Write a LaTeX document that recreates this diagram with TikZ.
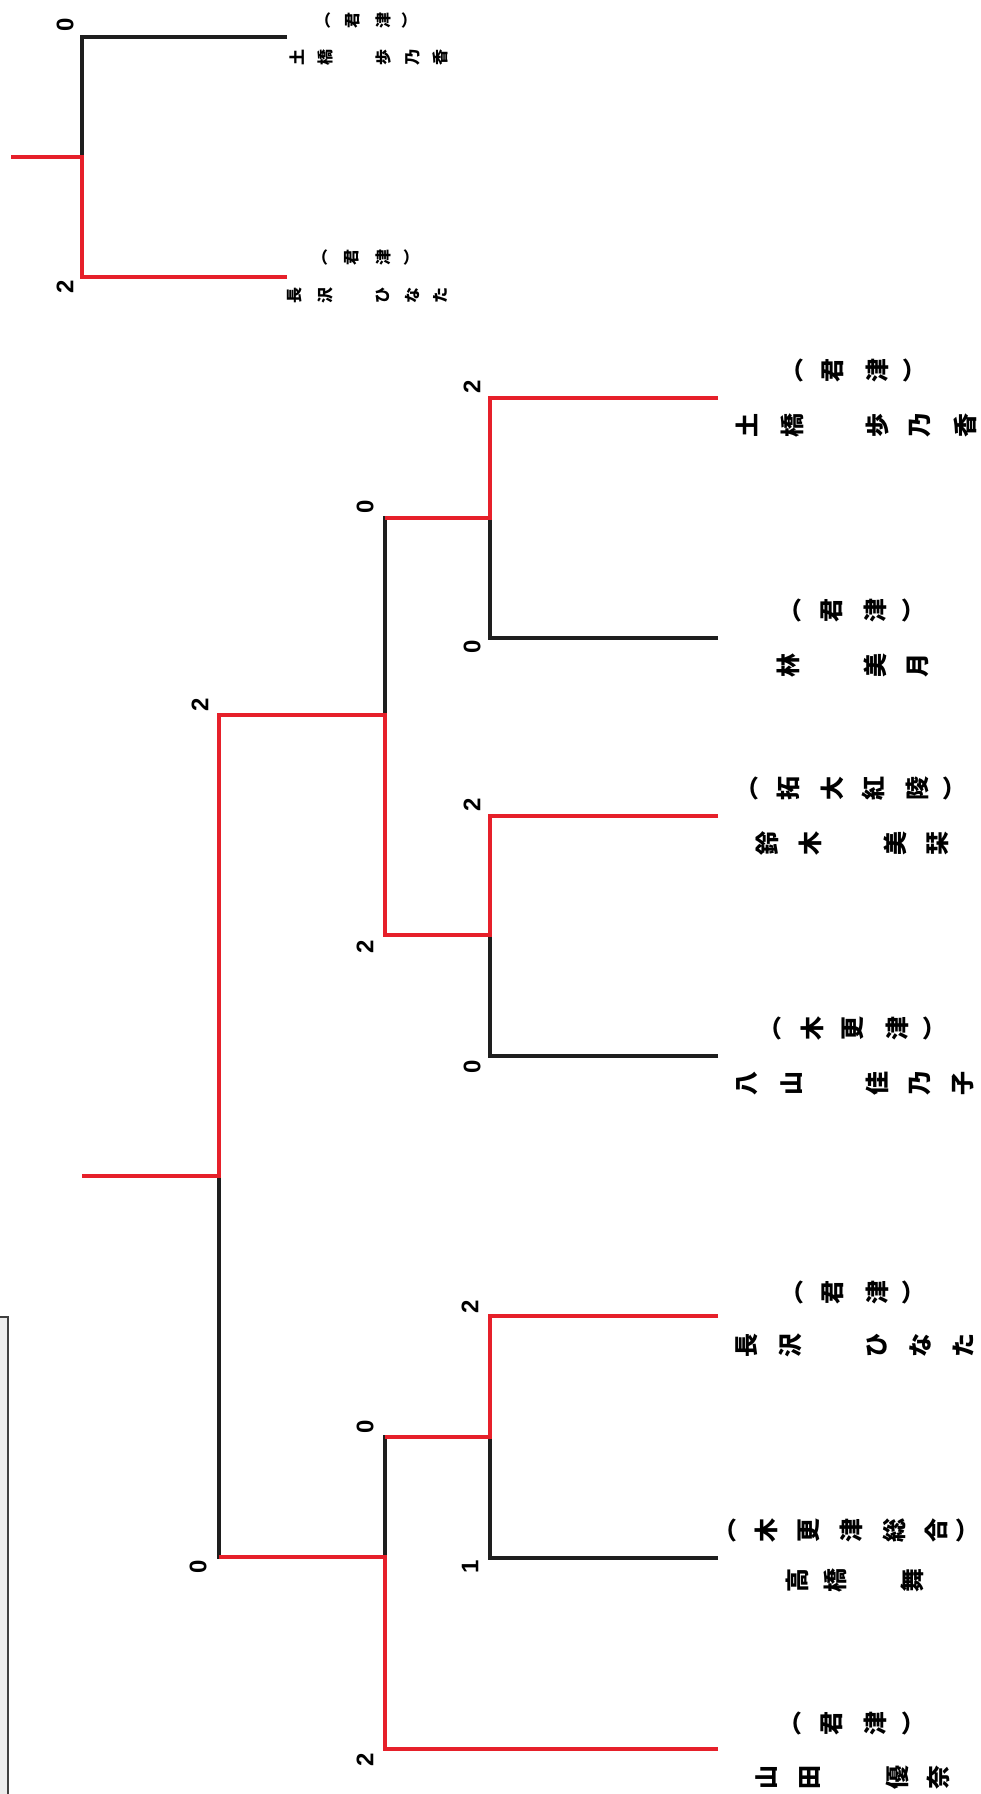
\documentclass[tikz,border=0pt]{standalone}
\usepackage{fontspec}
\setmainfont{Noto Sans CJK JP}
\newfontfamily\digitfont{Liberation Sans}
\usetikzlibrary{calc}

\definecolor{winred}{RGB}{230,32,42}
\definecolor{loseblack}{RGB}{30,30,30}

\tikzset{
  won/.style={draw=winred,line width=4.5pt},
  lost/.style={draw=loseblack,line width=3.5pt},
  score/.style={rotate=90,inner sep=0pt,font=\digitfont\bfseries\fontsize{24}{24}\selectfont},
  bigkana/.style={rotate=90,inner xsep=0pt,inner ysep=-4pt,font=\bfseries\fontsize{24}{24}\selectfont},
  smallkana/.style={rotate=90,inner sep=0pt,font=\bfseries\fontsize{16}{16}\selectfont},
}
% one row of tategaki text, laid on its side
\newcommand{\tateline}[3]{%
  \foreach \cx/\ch in {#3} \node[#2] (k#1-\cx) at (\cx,#1) {\ch};}

\begin{document}
\begin{tikzpicture}[x=1pt,y=-1pt]
  \useasboundingbox (0,0) rectangle (981,1794);
  % scan edge, lower left
  \fill[black!7] (0,1317) rectangle (8,1794);
  \draw[black!75,line width=1.5pt] (0,1317) -| (8,1794);

  % small bracket
  \coordinate (ta) at (287,37);
  \coordinate (tb) at (287,277);
  \coordinate (tm) at (82,157);
  \coordinate (tw) at (11,157);
  \draw[lost] (ta) -| (tm);
  \draw[won] (tb) -| (tm) -- (tw);
  \node[score] (sta) at (65,25) {0};
  \node[score] (stb) at (65,287) {2};
  \tateline{20}{smallkana}{328/︵,353/君,383/津,409/︶}
  \tateline{57}{smallkana}{297/土,325/橋,383/歩,413/乃,440/香}
  \tateline{257}{smallkana}{325/︵,352/君,383/津,411/︶}
  \tateline{295}{smallkana}{295/長,325/沢,383/ひ,412/な,440/た}

  % main bracket
  \coordinate (p1) at (718,398);
  \coordinate (p2) at (718,638);
  \coordinate (p3) at (718,816);
  \coordinate (p4) at (718,1056);
  \coordinate (p5) at (718,1316);
  \coordinate (p6) at (718,1558);
  \coordinate (p7) at (718,1749);
  \coordinate (m1) at (490,518);
  \coordinate (m2) at (490,935);
  \coordinate (m3) at (490,1437);
  \coordinate (q1) at (385,715);
  \coordinate (q2) at (385,1557);
  \coordinate (s1) at (219,1176);
  \coordinate (w1) at (82,1176);

  \draw[lost] (p2) -| (m1);
  \draw[lost] (p4) -| (m2);
  \draw[lost] (p6) -| (m3);
  \draw[lost] (m1) -| (q1);
  \draw[lost] (m3) -| (q2);
  \draw[lost] (q2) -| (s1);
  \draw[won] (p1) -| (m1) -- (m1 -| q1);
  \draw[won] (p3) -| (m2) -| (q1) -| (s1) -- (w1);
  \draw[won] (p5) -| (m3) -- (m3 -| q2);
  \draw[won] (p7) -| (q2) -- (q2 -| s1);

  \node[score] (sc1) at (472,387) {2};
  \node[score] (sc2) at (472,647) {0};
  \node[score] (sc3) at (472,805) {2};
  \node[score] (sc4) at (472,1067) {0};
  \node[score] (sc5) at (470,1307) {2};
  \node[score] (sc6) at (470,1567) {1};
  \node[score] (sm1) at (365,507) {0};
  \node[score] (sm2) at (365,947) {2};
  \node[score] (sm3) at (365,1427) {0};
  \node[score] (sm4) at (365,1760) {2};
  \node[score] (ss1) at (200,705) {2};
  \node[score] (ss2) at (198,1567) {0};

  \tateline{370}{bigkana}{800/︵,833/君,877/津,913/︶}
  \tateline{425}{bigkana}{747/土,792/橋,877/歩,920/乃,965/香}
  \tateline{610}{bigkana}{798/︵,832/君,875/津,912/︶}
  \tateline{665}{bigkana}{788/林,875/美,918/月}
  \tateline{788}{bigkana}{755/︵,788/拓,832/大,873/紅,917/陵,953/︶}
  \tateline{843}{bigkana}{767/鈴,810/木,895/美,938/栞}
  \tateline{1028}{bigkana}{778/︵,812/木,853/更,897/津,933/︶}
  \tateline{1083}{bigkana}{747/八,792/山,877/佳,920/乃,963/子}
  \tateline{1292}{bigkana}{800/︵,833/君,877/津,912/︶}
  \tateline{1345}{bigkana}{747/長,790/沢,877/ひ,920/な,963/た}
  \tateline{1530}{bigkana}{733/︵,766/木,809/更,851/津,894/総,936/合,966/︶}
  \tateline{1580}{bigkana}{797/高,835/橋,912/舞}
  \tateline{1723}{bigkana}{798/︵,832/君,875/津,912/︶}
  \tateline{1777}{bigkana}{767/山,810/田,897/優,938/奈}
\end{tikzpicture}
\end{document}
